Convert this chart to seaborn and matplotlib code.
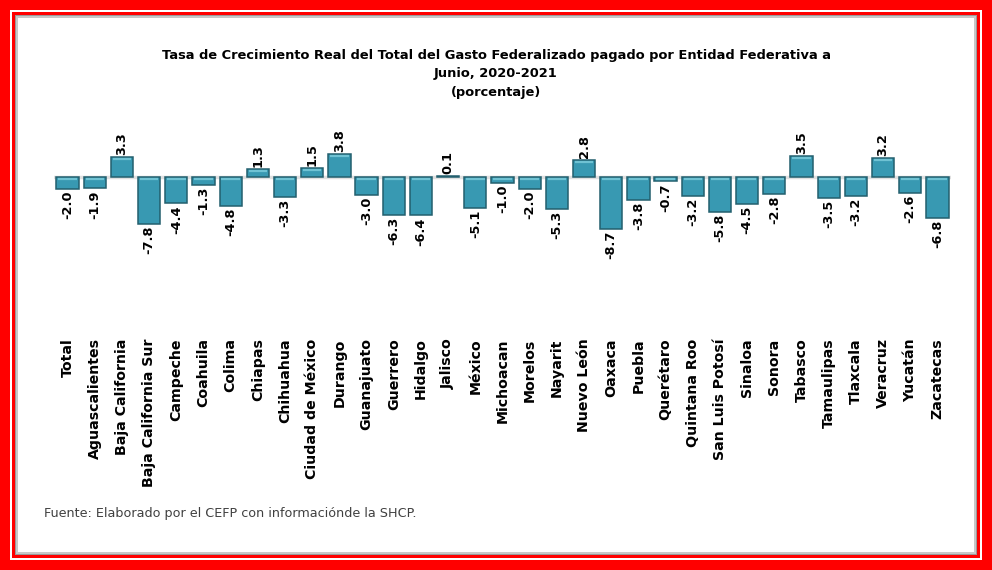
import matplotlib
matplotlib.use("Agg")
import matplotlib.pyplot as plt
import seaborn as sns
import pandas as pd
from matplotlib.patches import Rectangle

estados = ["Total", "Aguascalientes", "Baja California", "Baja California Sur", "Campeche",
           "Coahuila", "Colima", "Chiapas", "Chihuahua", "Ciudad de México", "Durango",
           "Guanajuato", "Guerrero", "Hidalgo", "Jalisco", "México", "Michoacan", "Morelos",
           "Nayarit", "Nuevo León", "Oaxaca", "Puebla", "Querétaro", "Quintana Roo",
           "San Luis Potosí", "Sinaloa", "Sonora", "Tabasco", "Tamaulipas", "Tlaxcala",
           "Veracruz", "Yucatán", "Zacatecas"]
valores = [-2.0, -1.9, 3.3, -7.8, -4.4, -1.3, -4.8, 1.3, -3.3, 1.5, 3.8, -3.0, -6.3, -6.4,
           0.1, -5.1, -1.0, -2.0, -5.3, 2.8, -8.7, -3.8, -0.7, -3.2, -5.8, -4.5, -2.8, 3.5,
           -3.5, -3.2, 3.2, -2.6, -6.8]

titulo = ("Tasa de Crecimiento Real del Total del Gasto Federalizado pagado por Entidad Federativa a\n"
          "Junio, 2020-2021\n(porcentaje)")
fuente = "Fuente: Elaborado por el CEFP con informaciónde la SHCP."

df = pd.DataFrame({"estado": estados, "valor": valores})

sns.set_theme(style="white")
plt.rcParams["font.family"] = ["DejaVu Sans"]

W, H = 992, 570
fig = plt.figure(figsize=(W / 100, H / 100), dpi=100)
fig.patch.set_facecolor("#ff0000")

def frect(x0, y0, x1, y1, color, z):
    fig.patches.append(Rectangle((x0 / W, 1 - y1 / H), (x1 - x0) / W, (y1 - y0) / H,
                                 transform=fig.transFigure, facecolor=color,
                                 edgecolor="none", zorder=z))

frect(10, 10, 982, 560, "#ffffff", -5)
frect(12, 12, 980, 558, "#ff0000", -4.9)
frect(15, 15, 977, 555, "#9a9a9a", -4.8)
frect(16, 16, 976, 554, "#c8c8c8", -4.7)
frect(18, 18, 974, 552, "#ffffff", -4.6)

ax = fig.add_axes([54 / W, 1 - 330 / H, (951 - 54) / W, 210 / H])
ax.set_zorder(2)
ax.set_facecolor("none")
sns.barplot(data=df, x="estado", y="valor", ax=ax, color="#3899b2", saturation=1,
            width=0.82, edgecolor="#235f6e", linewidth=1.1, zorder=3)
ax.set_ylim(-25.5, 9.5)
ax.set_xlim(-0.5, len(estados) - 0.5)
ax.axhline(0, color="#e0e0e0", lw=2.5, zorder=1)

# bevel highlight on each bar (derived from the bar patches)
for p in list(ax.patches):
    x0, w = p.get_x(), p.get_width()
    y0, h = p.get_y(), p.get_height()
    top, bot = max(y0, y0 + h), min(y0, y0 + h)
    if top - bot > 0.6:
        ax.plot([x0 + 0.07, x0 + w - 0.07], [top - 0.32, top - 0.32], color="#6fc2d3",
                lw=1.6, solid_capstyle="butt", zorder=4)

for s in ax.spines.values():
    s.set_visible(False)
ax.set_yticks([])
ax.set_xlabel("")
ax.set_ylabel("")
ax.tick_params(axis="x", length=0, pad=6)
ax.set_xticks(range(len(estados)))
ax.set_xticklabels(estados, rotation=90, fontsize=10.2, fontweight="bold", color="#000000",
                   ha="center", va="top")

for i, v in enumerate(valores):
    if v >= 0:
        ax.text(i, v + 0.35, f"{v:.1f}", rotation=90, ha="center", va="bottom",
                fontsize=9.3, fontweight="bold", color="#000000")
    else:
        ax.text(i, v - 0.3, f"{v:.1f}", rotation=90, ha="center", va="top",
                fontsize=9.3, fontweight="bold", color="#000000")

fig.text(496 / W, 1 - 49 / H, titulo, ha="center", va="top", fontsize=9.4,
         fontweight="bold", color="#000000", linespacing=1.55)
fig.text(44 / W, 1 - 513 / H, fuente, ha="left", va="center", fontsize=9.2,
         color="#404040")

fig.savefig("out.png", dpi=100, facecolor=fig.get_facecolor())
